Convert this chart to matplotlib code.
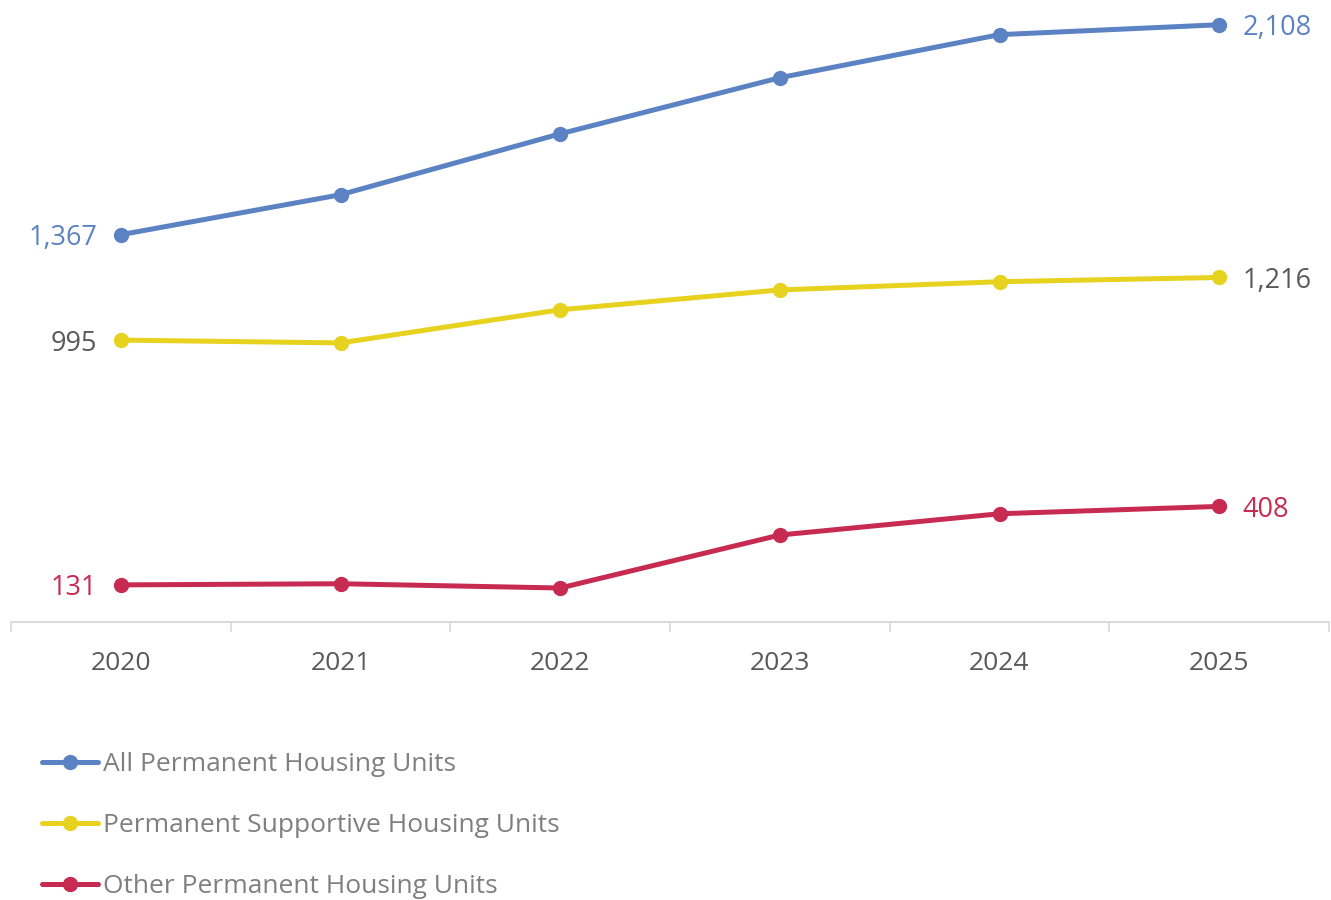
import matplotlib
matplotlib.use("Agg")
import matplotlib.pyplot as plt

# data
years = ["2020", "2021", "2022", "2023", "2024", "2025"]
all_units = [1367, 1508, 1723, 1921, 2073, 2108]
psh_units = [995, 985, 1102, 1172, 1201, 1216]
other_units = [131, 135, 120, 307, 382, 408]

series_names = ["All Permanent Housing Units",
                "Permanent Supportive Housing Units",
                "Other Permanent Housing Units"]
colors = ["#5B82C2", "#E6D21F", "#C72B52"]
# colour of the end labels (the yellow series uses grey text)
label_colors = ["#5B82C2", "#595959", "#C72B52"]

plt.rcParams['font.family'] = ['Open Sans', 'DejaVu Sans']

fig = plt.figure(figsize=(13.31, 9), dpi=100)
ax = fig.add_axes([11 / 1331, 1 - 622 / 900, 1318 / 1331, 612 / 900])

x = list(range(len(years)))
for vals, name, c, lc in zip([all_units, psh_units, other_units], series_names, colors, label_colors):
    ax.plot(x, vals, color=c, linewidth=3.6, marker='o', markersize=10,
            solid_capstyle='round', label=name, zorder=3)
    # value labels on first and last points
    ax.annotate(f"{vals[0]:,}", (x[0], vals[0]), xytext=(-17, 0), textcoords='offset points',
                ha='right', va='center_baseline', fontsize=19.5, color=lc)
    ax.annotate(f"{vals[-1]:,}", (x[-1], vals[-1]), xytext=(17, 0), textcoords='offset points',
                ha='left', va='center_baseline', fontsize=19.5, color=lc)

ax.set_xlim(-0.5, len(years) - 0.5)
ax.set_ylim(0, 2160)

# category axis: tick marks between categories, labels at the centres
ax.set_xticks([i - 0.5 for i in range(len(years) + 1)])
ax.set_xticklabels([])
ax.set_xticks(x, minor=True)
ax.set_xticklabels(years, minor=True, fontsize=19, color='#595959')
ax.tick_params(axis='x', which='major', length=7, width=1.2, color='#D9D9D9', direction='out')
ax.tick_params(axis='x', which='minor', length=0, pad=21)
ax.set_yticks([])

for side in ['top', 'right', 'left']:
    ax.spines[side].set_visible(False)
ax.spines['bottom'].set_color('#D9D9D9')
ax.spines['bottom'].set_linewidth(1.4)

handles, labels = ax.get_legend_handles_labels()
fig.legend(handles, labels, loc='upper left', bbox_to_anchor=(42 / 1331, 1 - 752 / 900),
           frameon=False, fontsize=19, labelcolor='#7F7F7F', handlelength=2.12,
           handletextpad=0.2, labelspacing=1.37, borderaxespad=0, borderpad=0)

fig.savefig("out.png", dpi=100)
